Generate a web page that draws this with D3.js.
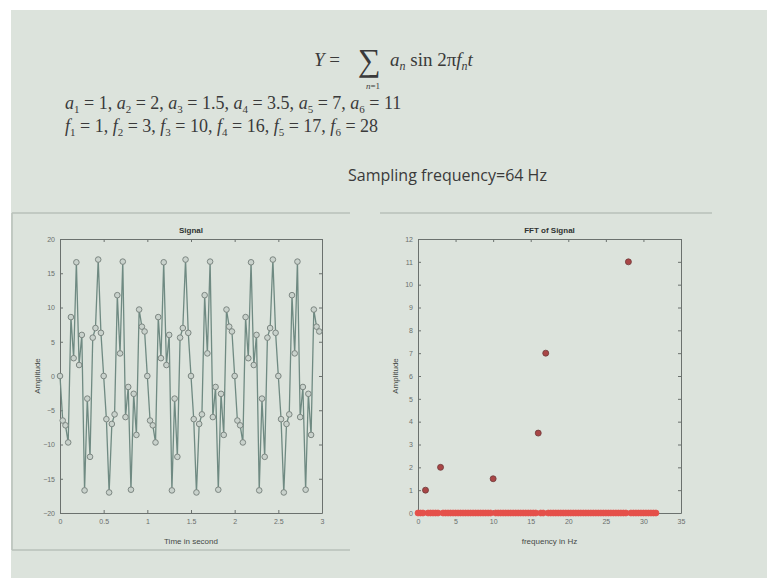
<!DOCTYPE html>
<html>
<head>
<meta charset="utf-8">
<script src="https://cdn.jsdelivr.net/npm/d3@7/dist/d3.min.js"></script>
<style>
  body { margin: 0; background: #fff; }
  svg { display: block; }
  .tick text { font-family: "Liberation Sans", Arial, sans-serif; font-size: 7px; fill: #6a6f6c; }
  .axis path, .axis line { stroke: #6b716e; }
</style>
</head>
<body>
<div id="chart-area"></div>
<script>
const W = 767, H = 578;

// signal samples (32 per second shown)
const signalValues = [
  0, -6.5, -7.2, -9.7, 8.6, 2.6, 16.6, 1.6, 6.0, -16.7, -3.3, -11.8, 5.6, 7.0, 17.0, 6.3,
  0, -6.3, -17.0, -7.0, -5.6, 11.8, 3.3, 16.7, -6.0, -1.6, -16.6, -2.6, -8.6, 9.7, 7.2, 6.5,
  0, -6.5, -7.2, -9.7, 8.6, 2.6, 16.6, 1.6, 6.0, -16.7, -3.3, -11.8, 5.6, 7.0, 17.0, 6.3,
  0, -6.3, -17.0, -7.0, -5.6, 11.8, 3.3, 16.7, -6.0, -1.6, -16.6, -2.6, -8.6, 9.7, 7.2, 6.5,
  0, -6.5, -7.2, -9.7, 8.6, 2.6, 16.6, 1.6, 6.0, -16.7, -3.3, -11.8, 5.6, 7.0, 17.0, 6.3,
  0, -6.3, -17.0, -7.0, -5.6, 11.8, 3.3, 16.7, -6.0, -1.6, -16.6, -2.6, -8.6, 9.7, 7.2, 6.5
];
const signalStep = 1 / 32;

// FFT magnitude per bin (bin width 1/3 Hz)
const fftAmplitudes = [
  0, 0, 0, 1, 0, 0, 0, 0, 0, 2, 0, 0,
  0, 0, 0, 0, 0, 0, 0, 0, 0, 0, 0, 0,
  0, 0, 0, 0, 0, 0, 1.5, 0, 0, 0, 0, 0,
  0, 0, 0, 0, 0, 0, 0, 0, 0, 0, 0, 0,
  3.5, 0, 0, 7, 0, 0, 0, 0, 0, 0, 0, 0,
  0, 0, 0, 0, 0, 0, 0, 0, 0, 0, 0, 0,
  0, 0, 0, 0, 0, 0, 0, 0, 0, 0, 0, 0,
  11, 0, 0, 0, 0, 0, 0, 0, 0, 0, 0, 0
];
const binWidth = 1 / 3;

const signalXTicks = [0, 0.5, 1, 1.5, 2, 2.5, 3];
const signalYTicks = [-20, -15, -10, -5, 0, 5, 10, 15, 20];
const fftXTicks = [0, 5, 10, 15, 20, 25, 30, 35];
const fftYTicks = [0, 1, 2, 3, 4, 5, 6, 7, 8, 9, 10, 11, 12];

const aVals = ["1", "2", "1.5", "3.5", "7", "11"];
const fVals = ["1", "3", "10", "16", "17", "28"];

const svg = d3.select("#chart-area").append("svg").attr("width", W).attr("height", H);

// slide background
svg.append("rect").attr("x", 11).attr("y", 10).attr("width", W - 11).attr("height", H - 10).attr("fill", "#dce3dc");

// ---- header text ----
const serif = "'Liberation Serif', 'DejaVu Serif', serif";
const ink = "#3a3a3a";
const eq = svg.append("text").attr("x", 314).attr("y", 66)
  .attr("font-family", serif).attr("font-size", 19).attr("fill", ink);
eq.append("tspan").attr("font-style", "italic").text("Y");
eq.append("tspan").text(" = ");
svg.append("text").attr("x", 358).attr("y", 71).attr("font-family", serif).attr("font-size", 32).attr("fill", ink).text("\u2211");
const lim = svg.append("text").attr("x", 366).attr("y", 89).attr("font-family", serif).attr("font-size", 9).attr("fill", ink);
lim.append("tspan").attr("font-style", "italic").text("n");
lim.append("tspan").text("=1");
const rhs = svg.append("text").attr("x", 390).attr("y", 66)
  .attr("font-family", serif).attr("font-size", 19).attr("fill", ink);
rhs.append("tspan").attr("font-style", "italic").text("a");
rhs.append("tspan").attr("font-style", "italic").attr("font-size", 12).attr("dy", 4).text("n");
rhs.append("tspan").attr("dy", -4).text(" sin 2\u03c0");
rhs.append("tspan").attr("font-style", "italic").text("f");
rhs.append("tspan").attr("font-style", "italic").attr("font-size", 12).attr("dy", 4).text("n");
rhs.append("tspan").attr("font-style", "italic").attr("dy", -4).text("t");

function subLine(sym, vals, y) {
  const t = svg.append("text").attr("x", 65).attr("y", y)
    .attr("font-family", serif).attr("font-size", 18).attr("fill", ink);
  vals.forEach((v, i) => {
    t.append("tspan").attr("font-style", "italic").text(sym);
    t.append("tspan").attr("font-size", 11).attr("dy", 4).text(i + 1);
    t.append("tspan").attr("dy", -4).text(" = " + v + (i < vals.length - 1 ? ", " : ""));
  });
}
subLine("a", aVals, 109);
subLine("f", fVals, 132);

svg.append("text").attr("x", 348).attr("y", 181)
  .attr("font-family", "'Open Sans', 'Noto Sans', sans-serif").attr("font-size", 16).attr("fill", ink)
  .text("Sampling frequency=64 Hz");

// panel frame lines
const frame = "#b9c0ba";
svg.append("line").attr("x1", 12).attr("x2", 350).attr("y1", 213).attr("y2", 213).attr("stroke", frame).attr("stroke-width", 1.5);
svg.append("line").attr("x1", 12).attr("x2", 12).attr("y1", 213).attr("y2", 550).attr("stroke", frame).attr("stroke-width", 1.5);
svg.append("line").attr("x1", 12).attr("x2", 350).attr("y1", 550).attr("y2", 550).attr("stroke", frame).attr("stroke-width", 1.5);
svg.append("line").attr("x1", 380).attr("x2", 712).attr("y1", 213).attr("y2", 213).attr("stroke", frame).attr("stroke-width", 1.5);

function drawAxes(g, x, y, w, h, xt, yt) {
  g.append("g").attr("class", "axis").attr("transform", `translate(0,${h})`)
    .call(d3.axisBottom(x).tickValues(xt).tickSize(-3).tickSizeOuter(0).tickPadding(6).tickFormat(d3.format("~g")));
  g.append("g").attr("class", "axis")
    .call(d3.axisLeft(y).tickValues(yt).tickSize(-3).tickSizeOuter(0).tickPadding(5).tickFormat(d3.format("~g")));
  g.append("g").attr("class", "axis")
    .call(d3.axisTop(x).tickValues(xt).tickSize(-3).tickSizeOuter(0).tickFormat(""));
  g.append("g").attr("class", "axis").attr("transform", `translate(${w},0)`)
    .call(d3.axisRight(y).tickValues(yt).tickSize(-3).tickSizeOuter(0).tickFormat(""));
}

function labels(g, w, h, title, xlab) {
  g.append("text").attr("x", w / 2).attr("y", -6).attr("text-anchor", "middle")
    .attr("font-family", "'Liberation Sans', Arial, sans-serif").attr("font-size", 8).attr("font-weight", "bold")
    .attr("fill", "#2f3331").text(title);
  g.append("text").attr("x", w / 2).attr("y", h + 31).attr("text-anchor", "middle")
    .attr("font-family", "'Liberation Sans', Arial, sans-serif").attr("font-size", 8)
    .attr("fill", "#454a47").text(xlab);
  g.append("text").attr("transform", `translate(-20,${h / 2}) rotate(-90)`).attr("text-anchor", "middle")
    .attr("font-family", "'Liberation Sans', Arial, sans-serif").attr("font-size", 8)
    .attr("fill", "#454a47").text("Amplitude");
}

// ---- Signal plot ----
const sW = 262, sH = 274;
const sg = svg.append("g").attr("transform", "translate(60,239)");
const sx = d3.scaleLinear().domain([0, 3]).range([0, sW]);
const sy = d3.scaleLinear().domain([-20, 20]).range([sH, 0]);
drawAxes(sg, sx, sy, sW, sH, signalXTicks, signalYTicks);

const sigPts = signalValues.map((v, i) => ({ t: i * signalStep, v: v }));
sg.append("path").datum(sigPts)
  .attr("fill", "none").attr("stroke", "#6f8a82").attr("stroke-width", 1.3)
  .attr("d", d3.line().x(d => sx(d.t)).y(d => sy(d.v)));
sg.selectAll("circle").data(sigPts).enter().append("circle")
  .attr("cx", d => sx(d.t)).attr("cy", d => sy(d.v)).attr("r", 2.8)
  .attr("fill", "#c9d2cc").attr("stroke", "#7c8681").attr("stroke-width", 1);
labels(sg, sW, sH, "Signal", "Time in second");

// ---- FFT plot ----
const fW = 263, fH = 274;
const fg = svg.append("g").attr("transform", "translate(418,239)");
const fx = d3.scaleLinear().domain([0, 35]).range([0, fW]);
const fy = d3.scaleLinear().domain([0, 12]).range([fH, 0]);
drawAxes(fg, fx, fy, fW, fH, fftXTicks, fftYTicks);

const fftPts = fftAmplitudes.map((a, k) => ({ f: k * binWidth, a: a }));
fg.selectAll("circle").data(fftPts).enter().append("circle")
  .attr("cx", d => fx(d.f)).attr("cy", d => fy(d.a)).attr("r", 3)
  .attr("fill", d => d.a > 0 ? "#a94646" : "#e5504a")
  .attr("stroke", d => d.a > 0 ? "#6e3a3a" : "#e5504a").attr("stroke-width", 0.8);
labels(fg, fW, fH, "FFT of Signal", "frequency in Hz");
</script>
</body>
</html>
